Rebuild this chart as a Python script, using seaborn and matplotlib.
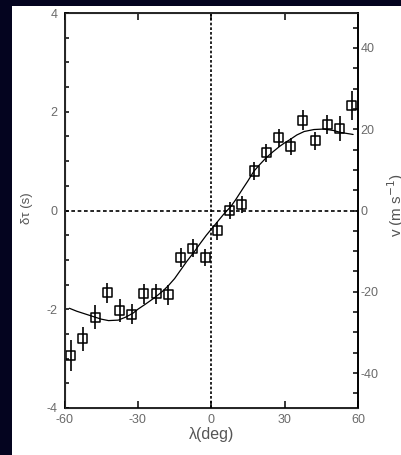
import numpy as np
import pandas as pd
import matplotlib
matplotlib.use("Agg")
import matplotlib.pyplot as plt
from matplotlib.ticker import MultipleLocator
from matplotlib.patches import Rectangle
import seaborn as sns

# Measured travel-time differences versus latitude
lat = [-57.5, -52.5, -47.5, -42.5, -37.5, -32.5, -27.5, -22.5, -17.5, -12.5, -7.5, -2.5,
       2.5, 7.5, 12.5, 17.5, 22.5, 27.5, 32.5, 37.5, 42.5, 47.5, 52.5, 57.5]
dtau = [-2.94, -2.60, -2.16, -1.67, -2.03, -2.10, -1.69, -1.69, -1.71, -0.95, -0.76, -0.95,
        -0.41, 0.00, 0.12, 0.80, 1.17, 1.47, 1.30, 1.83, 1.41, 1.74, 1.66, 2.13]
dtau_err = [0.32, 0.25, 0.24, 0.20, 0.23, 0.20, 0.20, 0.20, 0.20, 0.20, 0.18, 0.18,
            0.18, 0.17, 0.17, 0.18, 0.18, 0.18, 0.17, 0.20, 0.18, 0.20, 0.26, 0.29]

# Smooth model curve
fit_lat = [-58, -55, -50, -45, -42, -38, -35, -32, -30, -27, -23, -20, -17.5, -15, -12, -10,
           -7, -5, -2, 0, 2, 5, 8, 10, 13, 15, 17.5, 20, 22.5, 25, 28, 30, 32, 35, 38, 42,
           46, 50, 53, 58]
fit_dtau = [-1.98, -2.04, -2.12, -2.20, -2.23, -2.22, -2.16, -2.08, -2.00, -1.90, -1.76, -1.64,
            -1.52, -1.38, -1.17, -1.03, -0.84, -0.70, -0.50, -0.38, -0.26, -0.08, 0.08, 0.22,
            0.45, 0.60, 0.80, 0.94, 1.07, 1.18, 1.30, 1.37, 1.43, 1.53, 1.60, 1.64, 1.65,
            1.62, 1.58, 1.54]

x_ticks = [-60, -30, 0, 30, 60]
left_ticks = [-4, -2, 0, 2, 4]
right_ticks = [-40, -20, 0, 20, 40]
v_per_s = 12.15  # right-axis units per left-axis unit

sns.set_style("ticks")
plt.rcParams["font.family"] = ["Liberation Sans", "DejaVu Sans"]
plt.rcParams["axes.unicode_minus"] = False

fig = plt.figure(figsize=(4.01, 4.55), dpi=100, facecolor="#04041f")
fig.patches.append(Rectangle((12 / 401, 0), 1 - 12 / 401, (455 - 6) / 455,
                             transform=fig.transFigure, facecolor="white",
                             edgecolor="none", zorder=-10))

ax = fig.add_axes([64.5 / 401, 1 - 408 / 455, (358 - 64.5) / 401, (408 - 13) / 455])
ax.set_facecolor("white")

pts = pd.DataFrame({"lat": lat, "dtau": dtau, "err": dtau_err})
fit = pd.DataFrame({"lat": fit_lat, "dtau": fit_dtau})

ax.axhline(0, color="black", lw=1.2, ls=(0, (2.2, 1.6)), zorder=1)
ax.axvline(0, color="black", lw=1.2, ls=(0, (1.6, 1.2)), zorder=1)

sns.lineplot(data=fit, x="lat", y="dtau", ax=ax, color="black", lw=0.9,
             sort=False, zorder=2)
ax.errorbar(pts["lat"], pts["dtau"], yerr=pts["err"], fmt="none", ecolor="black",
            elinewidth=1.2, capsize=0, zorder=3)
sns.scatterplot(data=pts, x="lat", y="dtau", ax=ax, marker="s", s=42,
                facecolor="none", edgecolor="black", linewidth=1.1, zorder=4)

ax.set_xlim(-60, 60)
ax.set_ylim(-4, 4)
ax.set_xticks(x_ticks)
ax.set_yticks(left_ticks)
ax.yaxis.set_minor_locator(MultipleLocator(0.5))

tick_color = "#6a6a6a"
ax.tick_params(axis="x", direction="in", length=5, width=1.1, top=True,
               labelsize=9, labelcolor=tick_color, pad=4, color="black")
ax.tick_params(axis="y", which="both", direction="in", length=3.2, width=1.1,
               labelsize=9, labelcolor=tick_color, pad=5, color="black", right=False)
ax.set_xlabel("")
ax.set_ylabel("")
for s in ax.spines.values():
    s.set_color("black")
    s.set_linewidth(1.2)
    s.set_visible(True)

ax2 = ax.twinx()
ax2.set_ylim(-4 * v_per_s, 4 * v_per_s)
ax2.set_yticks(right_ticks)
ax2.yaxis.set_minor_locator(MultipleLocator(5))
ax2.tick_params(axis="y", which="both", direction="in", length=3.6, width=1.1,
                labelsize=9, labelcolor=tick_color, pad=2, color="black")
ax2.spines["right"].set_linewidth(1.2)
ax2.spines["right"].set_color("black")

fig.text(212 / 401, 1 - 434 / 455, "λ(deg)", ha="center", va="center",
         fontsize=11.5, color="#555555")
fig.text(27 / 401, 1 - 208 / 455, "δτ (s)", ha="center", va="center",
         rotation=90, fontsize=9.5, color="#555555")
fig.text(396 / 401, 1 - 205 / 455, r"v (m s$^{-1}$)", ha="center", va="center",
         rotation=90, fontsize=11, color="#555555")

fig.savefig("out.png", dpi=100, facecolor=fig.get_facecolor())
